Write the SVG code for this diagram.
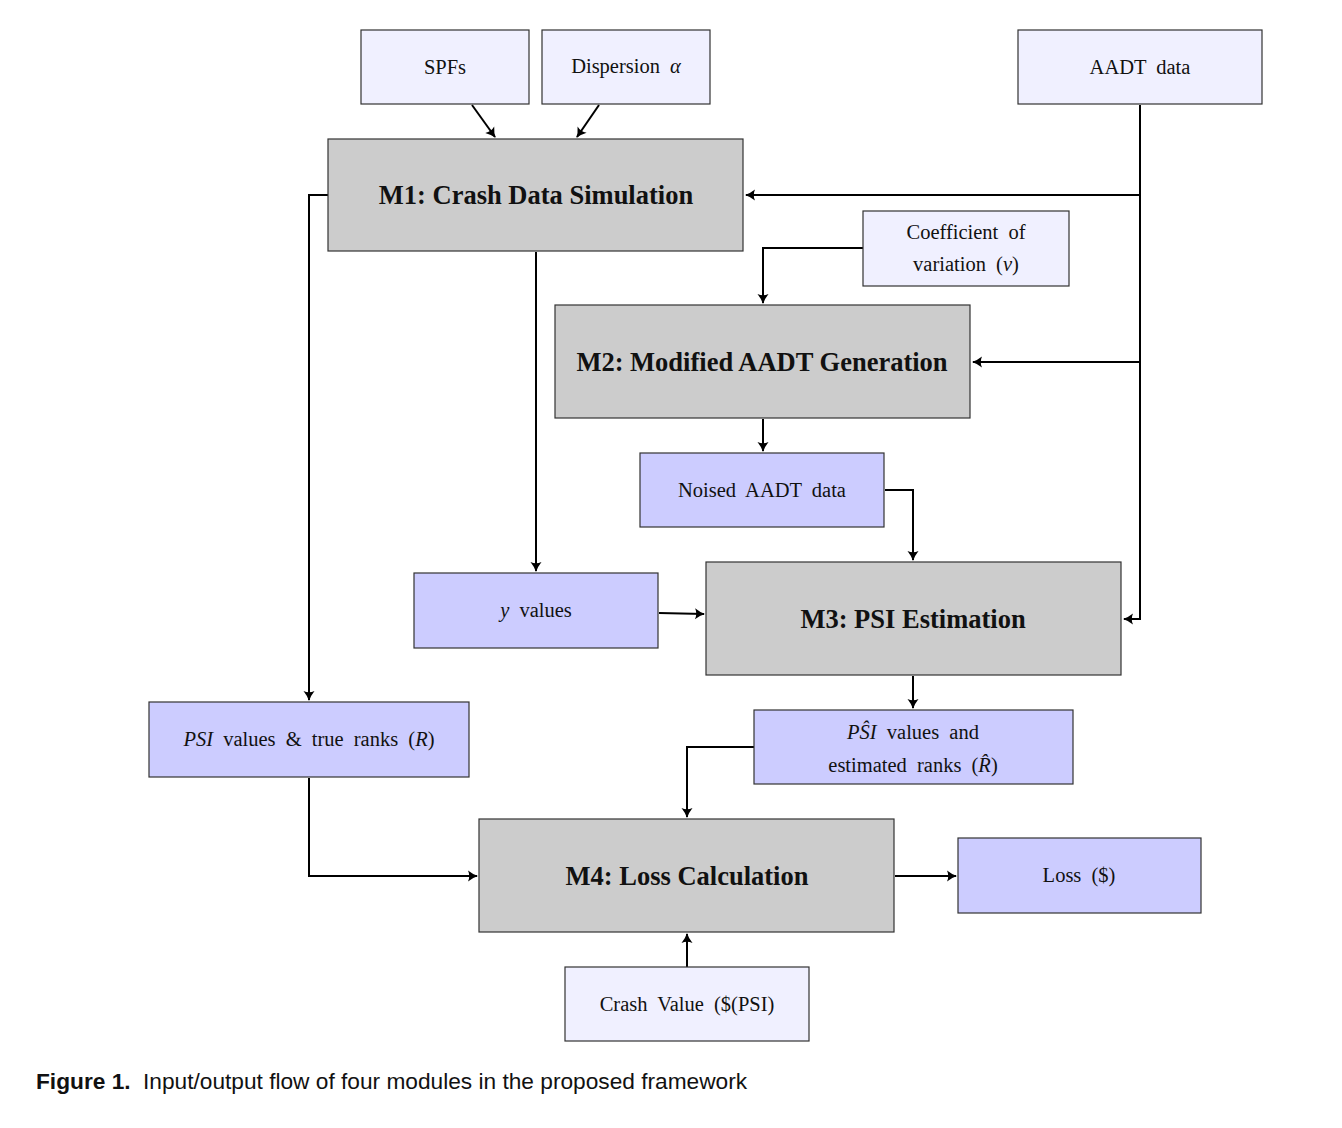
<svg xmlns="http://www.w3.org/2000/svg" width="1342" height="1128" viewBox="0 0 1342 1128">
<style>
.in{fill:#f0f0ff;stroke:#333;stroke-width:1.2}
.out{fill:#ccccff;stroke:#333;stroke-width:1.2}
.mod{fill:#cccccc;stroke:#333;stroke-width:1.2}
.t{font-family:"Liberation Serif",serif;font-size:20.5px;fill:#111;text-anchor:middle;word-spacing:5px}
.m{font-family:"Liberation Serif",serif;font-size:26.5px;font-weight:bold;fill:#111;text-anchor:middle}
.i{font-style:italic}
.c{fill:none;stroke:#000;stroke-width:2}
</style>
<defs>
<marker id="a" markerWidth="14" markerHeight="14" refX="10" refY="7" orient="auto" markerUnits="userSpaceOnUse">
<path d="M1,1.5 Q6,5.5 11,7 Q6,8.5 1,12.5 Q3.5,7 1,1.5 Z" fill="#000"/>
</marker>
</defs>
<rect width="1342" height="1128" fill="#fff"/>
<g id="connectors">
<path class="c" d="M472,105 L495,137" marker-end="url(#a)"/>
<path class="c" d="M599,105 L577,137" marker-end="url(#a)"/>
<path class="c" d="M1140,105 L1140,619 L1124,619" marker-end="url(#a)"/>
<path class="c" d="M1140,195 L746,195" marker-end="url(#a)"/>
<path class="c" d="M1140,362 L973,362" marker-end="url(#a)"/>
<path class="c" d="M863,248 L763,248 L763,303" marker-end="url(#a)"/>
<path class="c" d="M328,195 L309,195 L309,700" marker-end="url(#a)"/>
<path class="c" d="M536,252 L536,571" marker-end="url(#a)"/>
<path class="c" d="M763,419 L763,451" marker-end="url(#a)"/>
<path class="c" d="M885,490 L913,490 L913,560" marker-end="url(#a)"/>
<path class="c" d="M659,613 L704,614" marker-end="url(#a)"/>
<path class="c" d="M913,676 L913,708" marker-end="url(#a)"/>
<path class="c" d="M754,747 L687,747 L687,817" marker-end="url(#a)"/>
<path class="c" d="M309,778 L309,876 L477,876" marker-end="url(#a)"/>
<path class="c" d="M895,876 L956,876" marker-end="url(#a)"/>
<path class="c" d="M687,967 L687,934" marker-end="url(#a)"/>
</g>
<g id="spfs"><rect class="in" x="361" y="30" width="168" height="74"/><text class="t" x="445" y="74">SPFs</text></g>
<g id="dispersion"><rect class="in" x="542" y="30" width="168" height="74"/><text class="t" x="626" y="73">Dispersion <tspan class="i">α</tspan></text></g>
<g id="aadt"><rect class="in" x="1018" y="30" width="244" height="74"/><text class="t" x="1140" y="74">AADT data</text></g>
<g id="m1"><rect class="mod" x="328" y="139" width="415" height="112"/><text class="m" x="536" y="204">M1: Crash Data Simulation</text></g>
<g id="cov"><rect class="in" x="863" y="211" width="206" height="75"/><text class="t" x="966" y="239">Coefficient of</text><text class="t" x="966" y="271">variation (<tspan class="i">ν</tspan>)</text></g>
<g id="m2"><rect class="mod" x="555" y="305" width="415" height="113"/><text class="m" x="762" y="371">M2: Modified AADT Generation</text></g>
<g id="noised"><rect class="out" x="640" y="453" width="244" height="74"/><text class="t" x="762" y="497">Noised AADT data</text></g>
<g id="y"><rect class="out" x="414" y="573" width="244" height="75"/><text class="t" x="536" y="617"><tspan class="i">y</tspan> values</text></g>
<g id="m3"><rect class="mod" x="706" y="562" width="415" height="113"/><text class="m" x="913" y="628">M3: PSI Estimation</text></g>
<g id="psi"><rect class="out" x="149" y="702" width="320" height="75"/><text class="t" x="309" y="746"><tspan class="i">PSI</tspan> values &amp; true ranks (<tspan class="i">R</tspan>)</text></g>
<g id="psihat"><rect class="out" x="754" y="710" width="319" height="74"/><text class="t" x="913" y="739"><tspan class="i">PŜI</tspan> values and</text><text class="t" x="913" y="772">estimated ranks (<tspan class="i">R̂</tspan>)</text></g>
<g id="m4"><rect class="mod" x="479" y="819" width="415" height="113"/><text class="m" x="687" y="885">M4: Loss Calculation</text></g>
<g id="loss"><rect class="out" x="958" y="838" width="243" height="75"/><text class="t" x="1079" y="882">Loss ($)</text></g>
<g id="crash"><rect class="in" x="565" y="967" width="244" height="74"/><text class="t" x="687" y="1011">Crash Value ($(PSI)</text></g>
<text x="36" y="1089" font-family="'Liberation Sans',sans-serif" font-size="22.7" fill="#111"><tspan font-weight="bold">Figure 1.</tspan><tspan x="143">Input/output flow of four modules in the proposed framework</tspan></text>
</svg>
